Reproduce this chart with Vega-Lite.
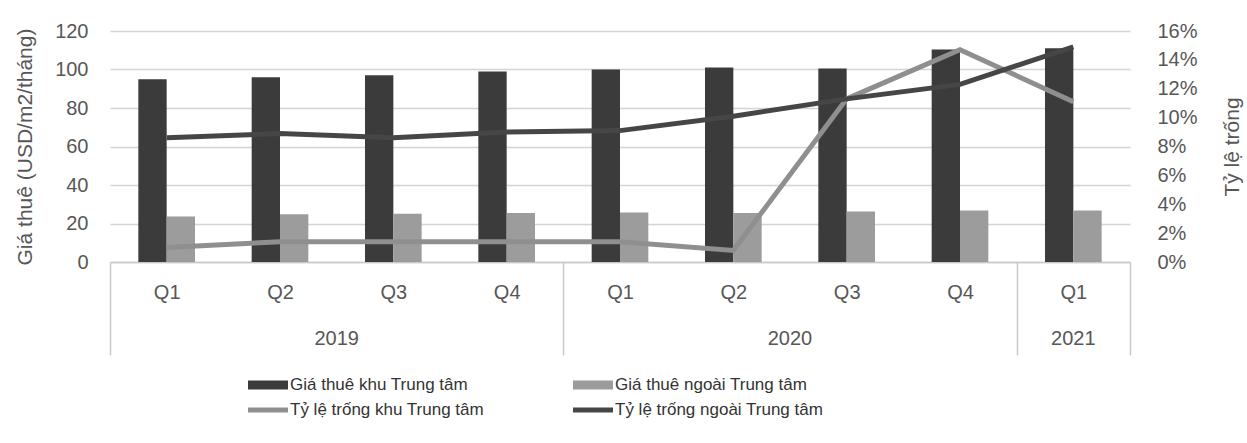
{
  "$schema": "https://vega.github.io/schema/vega-lite/v6.json",
  "width": 1020,
  "height": 231,
  "autosize": {"type": "none"},
  "padding": {"left": 110, "top": 31, "right": 117, "bottom": 181},
  "background": "white",
  "config": {
    "view": {"stroke": null},
    "font": "Liberation Sans",
    "axis": {"labelFont": "Liberation Sans", "titleFont": "Liberation Sans", "labelColor": "#575757", "titleColor": "#575757", "titleFontWeight": "normal"},
    "legend": {"labelFont": "Liberation Sans"}
  },
  "datasets": {
    "rent": [
      {"period": "2019 Q1", "series": "Giá thuê khu Trung tâm", "value": 95},
      {"period": "2019 Q2", "series": "Giá thuê khu Trung tâm", "value": 96},
      {"period": "2019 Q3", "series": "Giá thuê khu Trung tâm", "value": 97},
      {"period": "2019 Q4", "series": "Giá thuê khu Trung tâm", "value": 99},
      {"period": "2020 Q1", "series": "Giá thuê khu Trung tâm", "value": 100},
      {"period": "2020 Q2", "series": "Giá thuê khu Trung tâm", "value": 101},
      {"period": "2020 Q3", "series": "Giá thuê khu Trung tâm", "value": 100.5},
      {"period": "2020 Q4", "series": "Giá thuê khu Trung tâm", "value": 110.4},
      {"period": "2021 Q1", "series": "Giá thuê khu Trung tâm", "value": 111},
      {"period": "2019 Q1", "series": "Giá thuê ngoài Trung tâm", "value": 23.6},
      {"period": "2019 Q2", "series": "Giá thuê ngoài Trung tâm", "value": 24.8},
      {"period": "2019 Q3", "series": "Giá thuê ngoài Trung tâm", "value": 25.1},
      {"period": "2019 Q4", "series": "Giá thuê ngoài Trung tâm", "value": 25.4},
      {"period": "2020 Q1", "series": "Giá thuê ngoài Trung tâm", "value": 25.7},
      {"period": "2020 Q2", "series": "Giá thuê ngoài Trung tâm", "value": 25.5},
      {"period": "2020 Q3", "series": "Giá thuê ngoài Trung tâm", "value": 26.2},
      {"period": "2020 Q4", "series": "Giá thuê ngoài Trung tâm", "value": 26.7},
      {"period": "2021 Q1", "series": "Giá thuê ngoài Trung tâm", "value": 26.7}
    ],
    "vacancy": [
      {"period": "2019 Q1", "series": "Tỷ lệ trống khu Trung tâm", "value": 0.010},
      {"period": "2019 Q2", "series": "Tỷ lệ trống khu Trung tâm", "value": 0.014},
      {"period": "2019 Q3", "series": "Tỷ lệ trống khu Trung tâm", "value": 0.014},
      {"period": "2019 Q4", "series": "Tỷ lệ trống khu Trung tâm", "value": 0.014},
      {"period": "2020 Q1", "series": "Tỷ lệ trống khu Trung tâm", "value": 0.014},
      {"period": "2020 Q2", "series": "Tỷ lệ trống khu Trung tâm", "value": 0.008},
      {"period": "2020 Q3", "series": "Tỷ lệ trống khu Trung tâm", "value": 0.113},
      {"period": "2020 Q4", "series": "Tỷ lệ trống khu Trung tâm", "value": 0.147},
      {"period": "2021 Q1", "series": "Tỷ lệ trống khu Trung tâm", "value": 0.111},
      {"period": "2019 Q1", "series": "Tỷ lệ trống ngoài Trung tâm", "value": 0.086},
      {"period": "2019 Q2", "series": "Tỷ lệ trống ngoài Trung tâm", "value": 0.089},
      {"period": "2019 Q3", "series": "Tỷ lệ trống ngoài Trung tâm", "value": 0.086},
      {"period": "2019 Q4", "series": "Tỷ lệ trống ngoài Trung tâm", "value": 0.090},
      {"period": "2020 Q1", "series": "Tỷ lệ trống ngoài Trung tâm", "value": 0.091},
      {"period": "2020 Q2", "series": "Tỷ lệ trống ngoài Trung tâm", "value": 0.101},
      {"period": "2020 Q3", "series": "Tỷ lệ trống ngoài Trung tâm", "value": 0.113},
      {"period": "2020 Q4", "series": "Tỷ lệ trống ngoài Trung tâm", "value": 0.123},
      {"period": "2021 Q1", "series": "Tỷ lệ trống ngoài Trung tâm", "value": 0.149}
    ]
  },
  "layer": [
    {
      "data": {"name": "rent"},
      "mark": {"type": "bar"},
      "encoding": {
        "x": {
          "field": "period", "type": "nominal",
          "scale": {"domain": ["2019 Q1","2019 Q2","2019 Q3","2019 Q4","2020 Q1","2020 Q2","2020 Q3","2020 Q4","2021 Q1"], "paddingInner": 0, "paddingOuter": 0},
          "axis": {
            "orient": "bottom", "title": null, "labelAngle": 0,
            "labelExpr": "split(datum.value, ' ')[1]",
            "labelFontSize": 20,
            "domainColor": "#c8c8c8", "domainWidth": 1.5,
            "tickBand": "extent", "tickSize": 93, "tickColor": "#c8c8c8", "tickWidth": 1.5,
            "tickOpacity": {"condition": {"test": "!isValid(datum.value) || datum.value == '2019 Q4' || datum.value == '2020 Q4' || datum.value == '2021 Q1'", "value": 1}, "value": 0},
            "labelPadding": -73
          }
        },
        "xOffset": {"field": "series", "type": "nominal", "sort": ["Giá thuê khu Trung tâm", "Giá thuê ngoài Trung tâm"], "scale": {"paddingInner": 0, "paddingOuter": 1.1}},
        "y": {
          "field": "value", "type": "quantitative",
          "scale": {"domain": [0, 120], "nice": false},
          "axis": {
            "title": "Giá thuê (USD/m2/tháng)",
            "values": [0, 20, 40, 60, 80, 100, 120],
            "grid": true, "gridColor": "#d4d4d4", "gridWidth": 1.5,
            "domain": false, "ticks": false,
            "labelPadding": 22, "labelFontSize": 20,
            "titleFontSize": 21, "titlePadding": 19
          }
        },
        "color": {
          "field": "series", "type": "nominal",
          "scale": {
            "domain": ["Giá thuê khu Trung tâm", "Giá thuê ngoài Trung tâm", "Tỷ lệ trống khu Trung tâm", "Tỷ lệ trống ngoài Trung tâm"],
            "range": ["#3b3b3b", "#9c9c9c", "#8f8f8f", "#464646"]
          },
          "legend": {
            "orient": "none", "legendX": 148, "legendY": 344,
            "direction": "horizontal", "columns": 2, "title": null,
            "symbolType": {"expr": "indexof(datum.value, 'Tỷ') === 0 ? 'M-2,-0.25H2V0.25H-2Z' : 'M-2,-0.45H2V0.45H-2Z'"},
            "symbolSize": 400, "symbolStrokeWidth": 0,
            "labelFontSize": 17, "labelColor": "#333333", "labelOffset": 12, "labelLimit": 0,
            "columnPadding": 88, "rowPadding": 7
          }
        }
      }
    },
    {
      "data": {"name": "vacancy"},
      "mark": {"type": "line", "strokeWidth": 5},
      "encoding": {
        "x": {
          "field": "period", "type": "nominal",
          "axis": {
            "orient": "bottom", "title": null, "labelAngle": 0,
            "labelExpr": "datum.value == '2019 Q3' ? '2019' : datum.value == '2020 Q3' ? '2020' : datum.value == '2021 Q1' ? '2021' : ''",
            "labelOffset": {"condition": {"test": "datum.value == '2021 Q1'", "value": 0}, "value": -56.67},
            "labelFontSize": 20, "labelPadding": 66,
            "domain": false, "ticks": false
          }
        },
        "y": {
          "field": "value", "type": "quantitative",
          "scale": {"domain": [0, 0.16], "nice": false},
          "axis": {
            "orient": "right", "title": "Tỷ lệ trống", "format": ".0%",
            "values": [0, 0.02, 0.04, 0.06, 0.08, 0.1, 0.12, 0.14, 0.16],
            "grid": false, "domain": false, "ticks": false,
            "labelPadding": 27, "labelFontSize": 20,
            "titleFontSize": 21, "titlePadding": 45, "titleAngle": 270
          }
        },
        "color": {"field": "series", "type": "nominal"}
      }
    }
  ],
  "resolve": {"scale": {"y": "independent"}, "axis": {"x": "independent"}}
}
